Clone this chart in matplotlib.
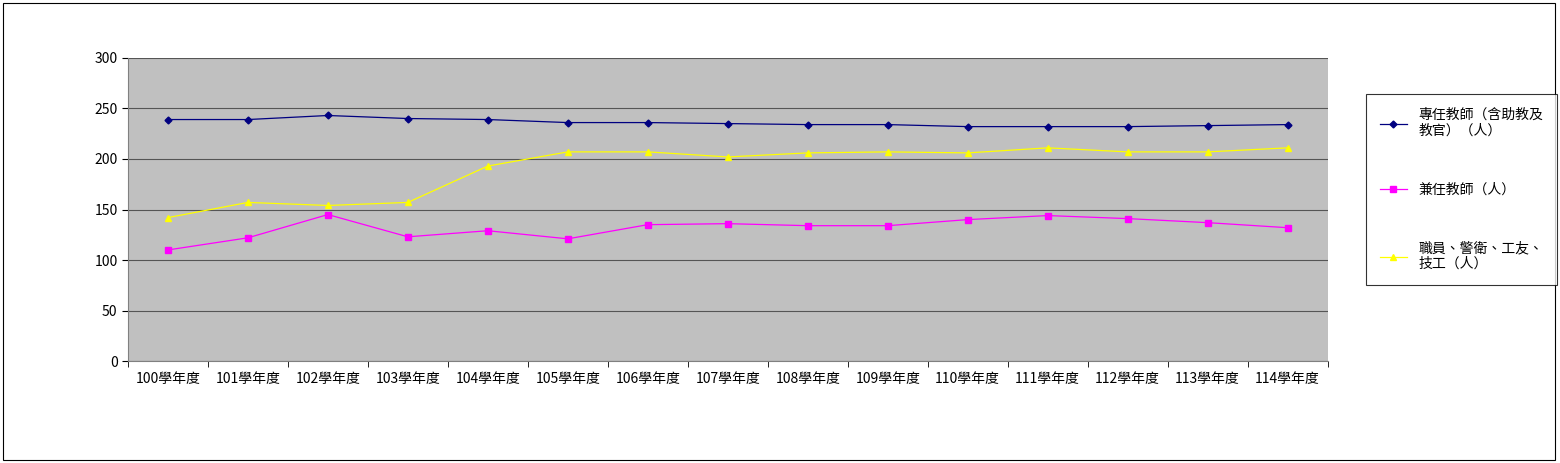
import matplotlib.pyplot as plt
from matplotlib.patches import Rectangle
import numpy as np

plt.rcParams['font.family'] = ['Noto Sans CJK TC', 'DejaVu Sans']

years = [f"{y}學年度" for y in range(100, 115)]
fulltime = [239, 239, 243, 240, 239, 236, 236, 235, 234, 234, 232, 232, 232, 233, 234]
parttime = [110, 122, 145, 123, 129, 121, 135, 136, 134, 134, 140, 144, 141, 137, 132]
staff = [142, 157, 154, 157, 193, 207, 207, 202, 206, 207, 206, 211, 207, 207, 211]

fig = plt.figure(figsize=(15.6, 4.63), dpi=100)
fig.patches.append(Rectangle((0.002, 0.006), 0.995, 0.988, transform=fig.transFigure,
                             fill=False, edgecolor='black', linewidth=0.8))
ax = fig.add_axes([0.082, 0.220, 0.769, 0.655])
ax.set_facecolor('#c0c0c0')

x = np.arange(len(years))
l1, = ax.plot(x, fulltime, color='#000080', marker='D', markersize=3.5, linewidth=0.9)
l2, = ax.plot(x, parttime, color='#ff00ff', marker='s', markersize=4, linewidth=0.9)
l3, = ax.plot(x, staff, color='#ffff00', marker='^', markersize=4.5, linewidth=0.9)

ax.set_xlim(-0.5, len(years) - 0.5)
ax.set_ylim(0, 300)
ax.set_yticks(range(0, 301, 50))
ax.yaxis.grid(True, color='#555555', linewidth=0.8)
ax.set_axisbelow(True)
ax.set_xticks(x)
ax.set_xticklabels(years, fontsize=10)
ax.set_xticks(np.arange(-0.5, len(years), 1), minor=True)
ax.tick_params(axis='x', which='major', length=0, pad=8)
ax.tick_params(axis='x', which='minor', length=4, direction='out')
ax.tick_params(axis='y', labelsize=10, length=4, direction='out')
for s in ['top', 'right']:
    ax.spines[s].set_visible(False)
ax.spines['left'].set_color('#808080')
ax.spines['bottom'].set_color('#808080')

leg = fig.legend([l1, l2, l3],
                 ['專任教師（含助教及\n教官）（人）', '兼任教師（人）', '職員、警衛、工友、\n技工（人）'],
                 loc='upper left', bbox_to_anchor=(0.871, 0.812), fontsize=10,
                 frameon=True, fancybox=False, edgecolor='black', labelspacing=3.2,
                 borderpad=1.0, handlelength=2.0)
leg.get_frame().set_linewidth(0.8)

fig.savefig('out.png')
